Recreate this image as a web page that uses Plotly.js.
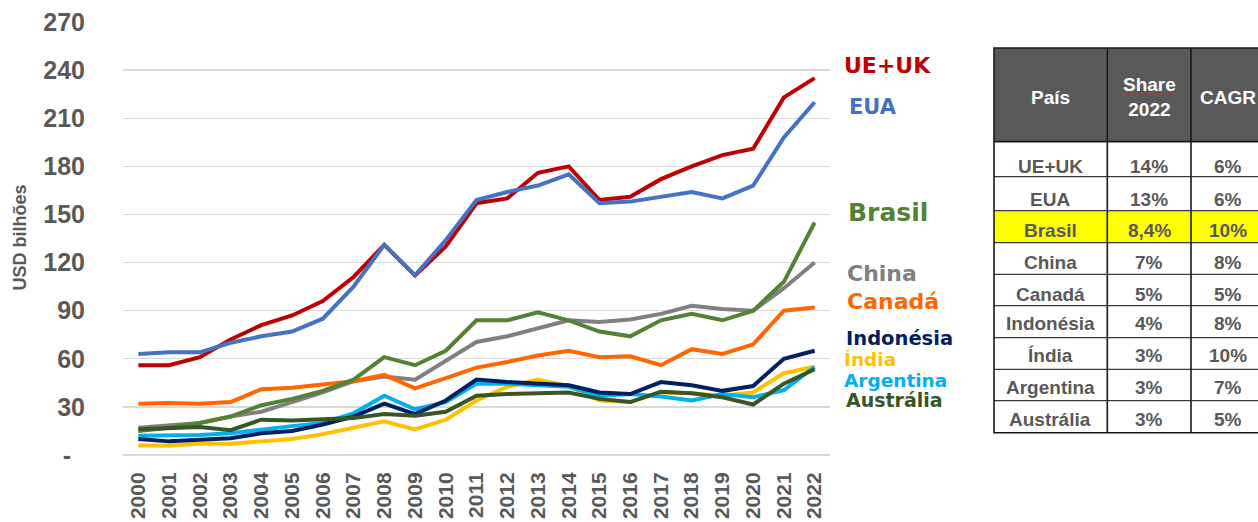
<!DOCTYPE html>
<html><head><meta charset="utf-8">
<script src="https://cdn.plot.ly/plotly-3.0.1.min.js"></script>
<style>html,body{margin:0;padding:0;background:#fff;overflow:hidden}#chart{width:1258px;height:522px}</style>
</head><body><div id="chart"></div>
<script>
// ---------- DATA ----------
const years = ['2000','2001','2002','2003','2004','2005','2006','2007','2008','2009','2010','2011','2012','2013','2014','2015','2016','2017','2018','2019','2020','2021','2022'];
const ueuk      = [56, 56, 61, 72, 81, 87, 96, 111, 131, 112, 130, 157, 160, 176, 180, 159, 161, 172, 180, 187, 191, 223, 235];
const eua       = [63, 64, 64, 70, 74, 77, 85, 105, 131, 112, 134, 159, 164, 168, 175, 157, 158, 161, 164, 160, 168, 198, 220];
const brasil    = [15, 17, 20, 24, 31, 35, 40, 47, 61, 56, 65, 84, 84, 89, 84, 77, 74, 84, 88, 84, 90, 108, 145];
const china     = [17, 18.5, 20, 24, 27, 33, 39, 46, 49, 47, 59, 70.5, 74, 79, 84, 83, 84.5, 88, 93, 91, 90, 104, 120];
const canada    = [32, 32.5, 32, 33, 41, 42, 44, 46, 50, 41.5, 48, 54.5, 58, 62, 65, 61, 61.5, 56, 66, 63, 69, 90, 92];
const indonesia = [10, 8.5, 9.5, 10.5, 13.5, 15, 19, 24, 32, 25.5, 34, 47, 45.5, 44.5, 43.5, 39, 38, 45.5, 43.5, 40, 43, 60, 65];
const india     = [6, 6, 7, 7, 8.5, 10, 13, 17, 21, 16, 22, 34, 42.5, 47, 43, 34, 33, 39, 38.5, 37, 39, 51, 55];
const argentina = [12, 12, 12.5, 13.5, 16, 18, 20, 26, 37, 28.5, 33, 44.5, 44.5, 43.5, 42.5, 37, 38, 36.5, 34, 38, 36, 40.5, 55];
const australia = [16, 17, 17.5, 15.5, 22, 21.5, 22, 23, 25.5, 24.5, 27, 37, 38, 38.5, 39, 35, 33, 39.5, 38.5, 36, 31.5, 44.5, 53.5];

const paises    = ['UE+UK','EUA','Brasil','China','Canadá','Indonésia','Índia','Argentina','Austrália'];
const share2022 = ['14%','13%','8,4%','7%','5%','4%','3%','3%','3%'];
const cagr      = ['6%','6%','10%','8%','5%','8%','10%','7%','5%'];
const tableHeader = ['País','Share<br>2022','CAGR'];

const yTickVals = [0,30,60,90,120,150,180,210,240,270];
const yTickText = ['-\u00A0\u00A0','30','60','90','120','150','180','210','240','270'];
const yTitle = 'USD bilhões';

// ---------- STYLE / GEOMETRY ----------
const L=123, R=830, T=22, B=455;
const px = x => (x-L)/(R-L);
const py = y => (B-y)/(B-T);
const grey = '#595959';

const seriesData = {
  'UE+UK': ueuk, 'EUA': eua, 'Brasil': brasil, 'China': china, 'Canadá': canada,
  'Indonésia': indonesia, 'Índia': india, 'Argentina': argentina, 'Austrália': australia
};
const style = {
  'UE+UK':     {c:'#C00000', lx:843, ly:65.4, fs:22},
  'EUA':       {c:'#4472C4', lx:848, ly:107,  fs:21},
  'Brasil':    {c:'#548235', lx:847, ly:212.7,fs:25},
  'China':     {c:'#808080', lx:846, ly:273,  fs:22},
  'Canadá':    {c:'#FF6600', lx:846, ly:301,  fs:22},
  'Indonésia': {c:'#002060', lx:845, ly:338.6,fs:19.5},
  'Índia':     {c:'#FFC000', lx:843, ly:359.8,fs:18.5},
  'Argentina': {c:'#00B0F0', lx:843, ly:380.2,fs:18.5},
  'Austrália': {c:'#375623', lx:845, ly:399.8,fs:19}
};
const drawOrder = ['UE+UK','EUA','China','Canadá','Brasil','Índia','Argentina','Indonésia','Austrália'];

const traces = drawOrder.map(n => ({
  type:'scatter', mode:'lines', name:n, x:years, y:seriesData[n],
  line:{color:style[n].c, width:4}, hoverinfo:'x+y+name'
}));

const annotations = [];
paises.forEach(n => {
  const s = style[n];
  annotations.push({xref:'paper', yref:'paper', x:px(s.lx), y:py(s.ly), xanchor:'left', yanchor:'middle',
    text:n, showarrow:false, borderpad:0,
    font:{family:'DejaVu Sans', size:s.fs, color:s.c, weight:700}});
});
annotations.push({xref:'paper', yref:'paper', x:px(19.5), y:py(238), xanchor:'center', yanchor:'middle',
  text:yTitle, textangle:-90, showarrow:false, borderpad:0,
  font:{family:'Liberation Sans', size:18, color:grey, weight:700}});

// table
const tL=994, tR=1280, tTop=48, tHead=141.7, tBot=432.7;
const colX = [1050, 1149, 1228];
const colDiv = [1107.3, 1191];
const rowLines = [176.7, 210.7, 242.7, 274.3, 305.7, 337.7, 369.3, 400.7];
const rowTextY = [166, 199, 230, 262.3, 294, 323.3, 355.5, 387.5, 419];
const headY = [97, 97, 97];

const shapes = [];
shapes.push({type:'rect', xref:'paper', yref:'paper', x0:px(tL), x1:px(tR), y0:py(tHead), y1:py(tTop), fillcolor:'#595959', line:{width:0}});
const bi = paises.indexOf('Brasil');
shapes.push({type:'rect', xref:'paper', yref:'paper', x0:px(tL), x1:px(tR), y0:py(rowLines[bi]), y1:py(rowLines[bi-1]), fillcolor:'#FFFF00', line:{width:0}});
rowLines.forEach(y => shapes.push({type:'line', xref:'paper', yref:'paper', x0:px(tL), x1:px(tR), y0:py(y), y1:py(y), line:{color:'#3a3a3a', width:1.3}}));
shapes.push({type:'line', xref:'paper', yref:'paper', x0:px(tL), x1:px(tR), y0:py(tHead), y1:py(tHead), line:{color:'#1a1a1a', width:1.8}});
colDiv.forEach(x => shapes.push({type:'line', xref:'paper', yref:'paper', x0:px(x), x1:px(x), y0:py(tBot), y1:py(tTop), line:{color:'#1a1a1a', width:1.6}}));
shapes.push({type:'rect', xref:'paper', yref:'paper', x0:px(tL), x1:px(tR), y0:py(tBot), y1:py(tTop), line:{color:'#1a1a1a', width:1.6}, fillcolor:'rgba(0,0,0,0)'});
// spell-check squiggle under "Share"
shapes.push({type:'line', xref:'paper', yref:'paper', x0:px(1124), x1:px(1177), y0:py(94), y1:py(94), line:{color:'#e03030', width:1.2, dash:'dot'}});

tableHeader.forEach((h,i) => {
  annotations.push({xref:'paper', yref:'paper', x:px(colX[i]), y:py(headY[i]), xanchor:'center', yanchor:'middle',
    text:h, showarrow:false, borderpad:0, align:'center',
    font:{family:'Liberation Sans', size:19, color:'#ffffff', weight:700}});
});
paises.forEach((p,i) => {
  [p, share2022[i], cagr[i]].forEach((t,j) => {
    annotations.push({xref:'paper', yref:'paper', x:px(colX[j]), y:py(rowTextY[i]), xanchor:'center', yanchor:'middle',
      text:t, showarrow:false, borderpad:0,
      font:{family:'Liberation Sans', size:19, color:grey, weight:700}});
  });
});

const layout = {
  width:1258, height:522,
  margin:{l:L, r:1258-R, t:T, b:522-B, pad:0},
  paper_bgcolor:'#ffffff', plot_bgcolor:'#ffffff',
  showlegend:false,
  font:{family:'Liberation Sans', color:grey},
  xaxis:{type:'category', range:[-0.5, years.length-0.5], showgrid:false, zeroline:false, showline:false,
    tickangle:-90, ticks:'outside', ticklen:8, tickcolor:'rgba(0,0,0,0)',
    tickfont:{family:'Liberation Sans', size:21, color:grey, weight:700}, fixedrange:true},
  yaxis:{range:[0,270], tickvals:yTickVals, ticktext:yTickText, showgrid:true, gridcolor:'#D9D9D9', gridwidth:1.3,
    zeroline:true, zerolinecolor:'#D9D9D9', zerolinewidth:1.3, showline:false,
    ticks:'outside', ticklen:32, tickcolor:'rgba(0,0,0,0)',
    tickfont:{family:'Liberation Sans', size:25, color:grey, weight:700}, fixedrange:true},
  shapes:shapes, annotations:annotations
};
Plotly.newPlot('chart', traces, layout, {displayModeBar:false, staticPlot:true});
</script></body></html>
